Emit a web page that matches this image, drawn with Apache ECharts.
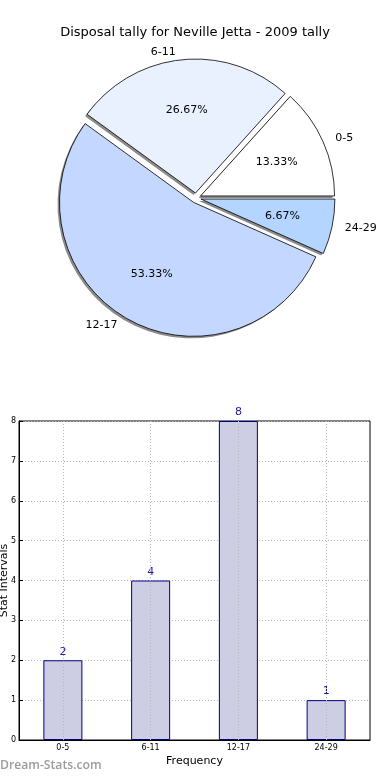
<!DOCTYPE html>
<html>
<head>
<meta charset="utf-8">
<script src="https://cdn.jsdelivr.net/npm/echarts@6/dist/echarts.min.js"></script>
<style>
html,body{margin:0;padding:0;background:#fff;}
#chart{width:390px;height:780px;}
</style>
</head>
<body>
<div id="chart"></div>
<script>
const titleText = 'Disposal tally for Neville Jetta - 2009 tally';
const categories = ['0-5', '6-11', '12-17', '24-29'];
const counts = [2, 4, 8, 1];
const sliceColors = ['#ffffff', '#eaf1fe', '#c4d8ff', '#b4d5ff'];
const yTicks = [0, 1, 2, 3, 4, 5, 6, 7, 8];
const xAxisName = 'Frequency';
const yAxisName = 'Stat Intervals';
const watermark = 'Dream-Stats.com';

const FONT = 'DejaVu Sans';
const R = 134;
const CX = 196, CY = 198;
const pieData = categories.map((c, i) => ({
  name: c, value: counts[i], selected: true,
  itemStyle: { color: sliceColors[i] }
}));
const plainData = categories.map((c, i) => ({ name: c, value: counts[i], selected: true }));

const chart = echarts.init(document.getElementById('chart'), null, { renderer: 'canvas' });
chart.setOption({
  animation: false,
  backgroundColor: '#ffffff',
  title: {
    text: titleText, left: 'center', top: 21,
    textStyle: { fontFamily: FONT, fontSize: 13, fontWeight: 'normal', color: '#000' }
  },
  graphic: [{
    type: 'text', left: 0, top: 760,
    style: { text: watermark, fontFamily: 'Open Sans', fontSize: 12.2, fontWeight: 600, fill: '#9c9c9c' }
  }],
  grid: { left: 19, right: 20, top: 421, bottom: 40, containLabel: false, outerBoundsMode: 'none',
    show: true, borderColor: '#000', borderWidth: 1 },
  xAxis: {
    type: 'category', data: categories,
    name: xAxisName, nameLocation: 'middle', nameGap: 16, nameMoveOverlap: false,
    nameTextStyle: { fontFamily: FONT, fontSize: 11, color: '#000' },
    axisLine: { lineStyle: { color: '#000', width: 1 } },
    axisTick: { show: true, inside: true, alignWithLabel: true, length: 4, lineStyle: { color: '#000' } },
    axisLabel: { fontFamily: FONT, fontSize: 8, color: '#000', margin: 4 },
    splitLine: { show: false }
  },
  yAxis: {
    type: 'value', min: 0, max: 8, interval: 1,
    name: yAxisName, nameLocation: 'middle', nameGap: 9, nameMoveOverlap: false,
    nameTextStyle: { fontFamily: FONT, fontSize: 11, color: '#000' },
    axisLine: { show: true, lineStyle: { color: '#000', width: 1 } },
    axisTick: { show: true, inside: true, length: 4, lineStyle: { color: '#000' } },
    axisLabel: { fontFamily: FONT, fontSize: 8, color: '#000', margin: 3,
      formatter: v => (yTicks.indexOf(v) >= 0 ? String(v) : '') },
    splitLine: { show: true, lineStyle: { color: '#b8b8b8', type: [1, 2], width: 1 } }
  },
  series: [
    {
      type: 'pie', name: 'shadow', center: [CX - 2, CY + 2], radius: R, z: 1,
      startAngle: 0, clockwise: false, silent: true,
      selectedMode: 'multiple', selectedOffset: 5,
      itemStyle: { color: '#8c8c8c', borderWidth: 0 },
      label: { show: false }, labelLine: { show: false },
      emphasis: { disabled: true },
      select: { itemStyle: { color: '#8c8c8c', borderWidth: 0 } },
      data: plainData
    },
    {
      type: 'pie', name: 'slices', center: [CX, CY], radius: R, z: 2,
      startAngle: 0, clockwise: false,
      selectedMode: 'multiple', selectedOffset: 5,
      avoidLabelOverlap: false,
      itemStyle: { borderColor: '#000', borderWidth: 0.8 },
      label: { show: true, position: 'outside', fontFamily: FONT, fontSize: 11, color: '#000', formatter: '{b}' },
      labelLine: { show: false, length: 8, length2: 0 },
      emphasis: { disabled: true },
      select: { itemStyle: { borderColor: '#000', borderWidth: 0.8 } },
      data: pieData
    },
    {
      type: 'pie', name: 'pct', center: [CX, CY], radius: R * 1.2, z: 3,
      startAngle: 0, clockwise: false, silent: true,
      selectedMode: 'multiple', selectedOffset: 5,
      itemStyle: { color: 'rgba(0,0,0,0)', borderWidth: 0 },
      label: { show: true, position: 'inside', fontFamily: FONT, fontSize: 11, color: '#000', formatter: '{d}%' },
      labelLine: { show: false },
      emphasis: { disabled: true },
      select: { itemStyle: { color: 'rgba(0,0,0,0)', borderWidth: 0 } },
      data: plainData
    },
    {
      type: 'bar', data: counts, barWidth: 39,
      itemStyle: { color: '#cdcde4', borderColor: '#000080', borderWidth: 1 },
      label: { show: true, position: 'top', distance: 3, fontFamily: FONT, fontSize: 11, color: '#1c1c9c' },
      emphasis: { disabled: true },
      markLine: {
        silent: true, symbol: 'none', label: { show: false },
        lineStyle: { color: '#b8b8b8', type: [1, 2], width: 1 },
        data: categories.map(c => ({ xAxis: c }))
      }
    }
  ]
});
</script>
</body>
</html>
